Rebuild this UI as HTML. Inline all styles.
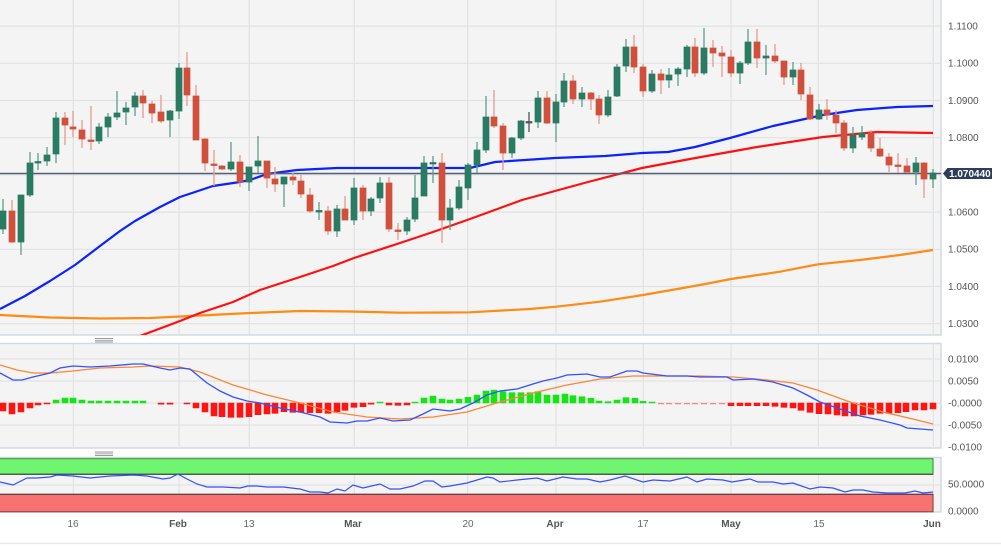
<!DOCTYPE html>
<html><head><meta charset="utf-8">
<style>
html,body{margin:0;padding:0;background:#fff;}
svg{display:block;font-family:"Liberation Sans",sans-serif;}
.ax{font-size:10px;fill:#555;}
.xl{font-size:10px;fill:#666;text-anchor:middle;}
.xb{font-size:10px;fill:#555;font-weight:bold;text-anchor:middle;}
</style></head>
<body>
<svg width="1001" height="549" viewBox="0 0 1001 549" xmlns="http://www.w3.org/2000/svg">
<defs>
<clipPath id="cm"><rect x="0" y="0" width="941" height="335"/></clipPath>
</defs>
<rect x="0" y="0" width="1001" height="549" fill="#fff"/>

<!-- MAIN PANEL -->
<rect x="-1" y="-1" width="942" height="336" fill="#f4f4f4" stroke="#d3d9e2" stroke-width="1.5"/>
<g stroke="#e2e2e2" stroke-width="1.2">
<line x1="0" y1="26.1" x2="941" y2="26.1"/>
<line x1="0" y1="63.3" x2="941" y2="63.3"/>
<line x1="0" y1="100.5" x2="941" y2="100.5"/>
<line x1="0" y1="137.7" x2="941" y2="137.7"/>
<line x1="0" y1="174.9" x2="941" y2="174.9"/>
<line x1="0" y1="212.1" x2="941" y2="212.1"/>
<line x1="0" y1="249.3" x2="941" y2="249.3"/>
<line x1="0" y1="286.5" x2="941" y2="286.5"/>
<line x1="0" y1="323.7" x2="941" y2="323.7"/>
<line x1="73.3" y1="0" x2="73.3" y2="335"/>
<line x1="179" y1="0" x2="179" y2="335"/>
<line x1="249.3" y1="0" x2="249.3" y2="335"/>
<line x1="354.3" y1="0" x2="354.3" y2="335"/>
<line x1="467.7" y1="0" x2="467.7" y2="335"/>
<line x1="556" y1="0" x2="556" y2="335"/>
<line x1="643.3" y1="0" x2="643.3" y2="335"/>
<line x1="731" y1="0" x2="731" y2="335"/>
<line x1="818.3" y1="0" x2="818.3" y2="335"/>
<line x1="933.3" y1="0" x2="933.3" y2="335"/>
</g>

<g clip-path="url(#cm)" fill="none" stroke-width="2.2" stroke-linejoin="round">
<polyline stroke="#ff8a14" points="0,315 50,317.5 100,318.5 150,318 200,315.5 250,313 300,311 350,311.5 400,312.7 450,312.5 470,312.3 530,309 556,306.7 600,301.7 643,295 700,285 731,279 780,271.7 818,264.3 860,260 900,255 933,250"/>
<polyline stroke="#ff1010" points="140,336 180,321 200,313 233,302 260,290 300,277 333,266 354,258 400,243 433,232 470,219 522,200 588,182 642,168 690,159 757,147 823,137 877,132 933,133"/>
<polyline stroke="#0a22ff" points="0,309 25,296 50,281 75,265 100,246 120,231 135,221 160,207 180,197 213,186 240,182 250,180 267,174 297,170 337,168 380,168 430,168 470,168 495,162 555,158 605,156 642,153 668,152 695,147 730,138 773,126 823,115 857,110 897,107 933,106"/>
</g>

<!-- price line -->
<line x1="0" y1="173.5" x2="941" y2="173.5" stroke="#50607a" stroke-width="1.5"/>

<!-- wicks -->
<path fill="none" stroke="#5f9e8b" stroke-width="1.3" d="M3 199V234M21 195V255M30 152V197M38 153V170M47 147V166M56 112V163M99 123V144M108 113V137M117 91V120M126 102V125M135 92V116M170 110V137M179 63V119M231 142V171M249 167V191M258 136V173M284 177V207M319 202V220M337 205V237M354 178V225M371 197V216M380 177V203M407 217V235M415 175V222M424 156V196M433 156V183M450 199V230M459 180V210M468 163V200M477 142V173M486 96V153M512 137V158M521 120V140M538 91V128M556 94V142M564 73V107M582 87V107M608 90V117M617 64V97M626 39V72M652 70V93M669 68V88M678 67V86M687 45V77M704 28V75M740 61V84M748 29V65M766 45V75M793 62V85M819 104V120M853 127V153M862 126V140M916 157V185M933 169V188"/>
<path fill="none" stroke="#e59a90" stroke-width="1.3" d="M12 200V243M65 112V145M73 111V137M82 120V148M91 106V150M143 90V118M152 101V123M161 95V123M187 52V106M196 85V140M205 138V171M214 150V186M222 165V170M240 155V187M267 161V188M275 167V192M293 173V185M301 175V198M310 188V213M328 206V235M345 196V220M363 185V220M389 177V232M398 223V240M442 153V243M494 90V128M503 123V170M547 91V124M573 75V104M591 92V110M599 95V124M634 35V73M643 64V97M661 69V94M695 38V77M713 40V67M722 46V77M731 50V77M757 29V68M775 44V63M784 61V85M801 63V100M810 87V120M827 99V120M836 110V133M844 120V151M871 130V152M880 138V157M889 153V172M898 153V173M907 158V173M924 162V198"/>
<path fill="none" stroke="#555" stroke-width="1.3" d="M529 112V132"/>

<!-- bodies -->
<path fill="#2a7b63" stroke="#2a7b63" stroke-width="0.7" d="M0 211h6v18h-6zM18 195h6v47h-6zM27 163h6v32h-6zM35 161.5h6v1.5h-6zM44 155h6v6h-6zM53 118h6v36h-6zM96 127h6v14h-6zM105 117h6v10h-6zM114 113h6v4h-6zM123 108h6v4h-6zM132 96h6v11h-6zM167 111h6v9h-6zM176 68h6v43h-6zM228 162h6v7h-6zM246 167h6v15h-6zM255 161h6v5h-6zM281 177h6v7h-6zM316 210.5h6v1.5h-6zM334 209h6v22h-6zM351 188h6v32h-6zM368 199h6v12h-6zM377 183h6v15h-6zM404 220h6v11h-6zM412 198h6v21h-6zM421 163h6v33h-6zM430 162.5h6v1.5h-6zM447 208h6v12h-6zM456 187h6v21h-6zM465 165h6v23h-6zM474 150h6v15h-6zM483 117h6v33h-6zM509 138h6v15h-6zM518 121h6v17h-6zM535 98h6v24h-6zM553 102h6v21h-6zM561 81h6v21h-6zM579 93h6v6h-6zM605 97h6v18h-6zM614 67h6v29h-6zM623 47h6v19h-6zM649 74h6v17h-6zM666 75h6v5h-6zM675 69h6v5h-6zM684 47h6v22h-6zM701 48h6v25h-6zM737 63h6v10h-6zM745 42h6v21h-6zM763 56h6v2h-6zM790 70h6v7h-6zM816 110h6v9h-6zM850 135h6v13h-6zM859 133h6v4h-6zM913 163h6v9h-6zM930 173h6v6h-6z"/>
<path fill="#d1503d" stroke="#d1503d" stroke-width="0.7" d="M9 211h6v31h-6zM62 118h6v7h-6zM70 127h6v2h-6zM79 130h6v9h-6zM88 140h6v1.5h-6zM140 96h6v7h-6zM149 104h6v9h-6zM158 112h6v9h-6zM184 68h6v27h-6zM193 96h6v44h-6zM202 139h6v24h-6zM211 164h6v1.5h-6zM219 166h6v3h-6zM237 162h6v20h-6zM264 161h6v17h-6zM272 179h6v5h-6zM290 177h6v3h-6zM298 181h6v13h-6zM307 195h6v16h-6zM325 211h6v20h-6zM342 209h6v11h-6zM360 188h6v23h-6zM386 183h6v46h-6zM395 230h6v1.5h-6zM439 163h6v57h-6zM491 117h6v9h-6zM500 126h6v27h-6zM544 98h6v25h-6zM570 81h6v18h-6zM588 93h6v6h-6zM596 99h6v16h-6zM631 47h6v20h-6zM640 67h6v24h-6zM658 74h6v6h-6zM692 47h6v26h-6zM710 48h6v5h-6zM719 53h6v3h-6zM728 57h6v16h-6zM754 42h6v16h-6zM772 56h6v5h-6zM781 61h6v16h-6zM798 70h6v24h-6zM807 95h6v24h-6zM824 110h6v5h-6zM833 115h6v8h-6zM841 123h6v25h-6zM868 133h6v15h-6zM877 149h6v7h-6zM886 157h6v8h-6zM895 165h6v1.5h-6zM904 166h6v6h-6zM921 163h6v16h-6z"/>
<path fill="#555" stroke="#555" stroke-width="0.7" d="M526 121.5h6v1.5h-6z"/>

<!-- main axis labels -->
<g class="ax">
<text x="948" y="29.5">1.1100</text>
<text x="948" y="66.7">1.1000</text>
<text x="948" y="103.9">1.0900</text>
<text x="948" y="141.1">1.0800</text>
<text x="948" y="215.5">1.0600</text>
<text x="948" y="252.7">1.0500</text>
<text x="948" y="289.9">1.0400</text>
<text x="948" y="327.1">1.0300</text>
</g>
<path d="M943 173.5L947.5 168H992V179H947.5Z" fill="#2c3e5c"/>
<text x="949" y="177" font-size="10" font-weight="bold" fill="#fff">1.070440</text>

<!-- handles -->
<g stroke="#999" stroke-width="0.9">
<line x1="95" y1="338.5" x2="113" y2="338.5"/><line x1="95" y1="340.3" x2="113" y2="340.3"/><line x1="95" y1="342" x2="113" y2="342"/>
<line x1="95" y1="452" x2="113" y2="452"/><line x1="95" y1="453.8" x2="113" y2="453.8"/><line x1="95" y1="455.5" x2="113" y2="455.5"/>
</g>

<!-- MACD PANEL -->
<rect x="-1" y="343.5" width="942" height="104.5" fill="#f4f4f4" stroke="#d3d9e2" stroke-width="1.5"/>
<g stroke="#e2e2e2" stroke-width="1.2">
<line x1="0" y1="359" x2="941" y2="359"/>
<line x1="0" y1="381" x2="941" y2="381"/>
<line x1="0" y1="403" x2="941" y2="403"/>
<line x1="0" y1="425" x2="941" y2="425"/>
<line x1="73.3" y1="344" x2="73.3" y2="448"/>
<line x1="179" y1="344" x2="179" y2="448"/>
<line x1="249.3" y1="344" x2="249.3" y2="448"/>
<line x1="354.3" y1="344" x2="354.3" y2="448"/>
<line x1="467.7" y1="344" x2="467.7" y2="448"/>
<line x1="556" y1="344" x2="556" y2="448"/>
<line x1="643.3" y1="344" x2="643.3" y2="448"/>
<line x1="731" y1="344" x2="731" y2="448"/>
<line x1="818.3" y1="344" x2="818.3" y2="448"/>
<line x1="933.3" y1="344" x2="933.3" y2="448"/>
</g>
<path fill="#ff1414" stroke="#ff1414" stroke-width="0.6" d="M0 403h6v8h-6zM9 403h6v11h-6zM18 403h6v9h-6zM27 403h6v5h-6zM35 403h6v2h-6zM44 403h6v1h-6zM158 403h6v1.2h-6zM167 403h6v1.2h-6zM184 403h6v1h-6zM193 403h6v5h-6zM202 403h6v9h-6zM211 403h6v13h-6zM219 403h6v13.7h-6zM228 403h6v14.3h-6zM237 403h6v14.3h-6zM246 403h6v13.7h-6zM255 403h6v11.7h-6zM264 403h6v11h-6zM272 403h6v10.3h-6zM281 403h6v8.7h-6zM290 403h6v9.3h-6zM298 403h6v9.3h-6zM307 403h6v9.7h-6zM316 403h6v9.7h-6zM325 403h6v10.3h-6zM334 403h6v8.7h-6zM342 403h6v7.3h-6zM351 403h6v4.3h-6zM360 403h6v3.7h-6zM368 403h6v1.2h-6zM386 403h6v2h-6zM395 403h6v2.3h-6zM404 403h6v2h-6zM728 403h6v2.7h-6zM737 403h6v2.7h-6zM745 403h6v2.7h-6zM754 403h6v2.7h-6zM763 403h6v2.7h-6zM772 403h6v3.3h-6zM781 403h6v4.3h-6zM790 403h6v5h-6zM798 403h6v7.3h-6zM807 403h6v9.3h-6zM816 403h6v10.7h-6zM825 403h6v11h-6zM834 403h6v12h-6zM842 403h6v13h-6zM851 403h6v13h-6zM860 403h6v12h-6zM868 403h6v11.3h-6zM877 403h6v10.3h-6zM886 403h6v10.3h-6zM895 403h6v9.7h-6zM903 403h6v8.7h-6zM912 403h6v7h-6zM921 403h6v7h-6zM930 403h6v6h-6z"/>
<path fill="#ff8080" d="M658 403h6v1.2h-6zM666 403h6v1.2h-6zM675 403h6v1.2h-6zM684 403h6v1.2h-6zM692 403h6v1.2h-6zM701 403h6v1.2h-6zM710 403h6v1.2h-6zM719 403h6v1.2h-6z"/>
<path fill="#14e614" stroke="#14e614" stroke-width="0.6" d="M53 400h6v3h-6zM62 398h6v5h-6zM70 398h6v5h-6zM79 400h6v3h-6zM88 401h6v2h-6zM96 401h6v2h-6zM105 401h6v2h-6zM114 401h6v2h-6zM123 401h6v2h-6zM132 401h6v2h-6zM140 401h6v2h-6zM377 402h6v1h-6zM412 402h6v1h-6zM421 398h6v5h-6zM430 396h6v7h-6zM439 399h6v4h-6zM447 400h6v3h-6zM456 399h6v4h-6zM465 397.3h6v5.7h-6zM474 395h6v8h-6zM483 391h6v12h-6zM491 390h6v13h-6zM500 391.7h6v11.3h-6zM509 392.7h6v10.3h-6zM518 392.7h6v10.3h-6zM527 392.7h6v10.3h-6zM535 391.7h6v11.3h-6zM544 395h6v8h-6zM553 395h6v8h-6zM562 394h6v9h-6zM570 395.7h6v7.3h-6zM579 396.7h6v6.3h-6zM588 398.3h6v4.7h-6zM596 401h6v2h-6zM605 401.7h6v1.3h-6zM614 400h6v3h-6zM623 397.7h6v5.3h-6zM632 398.3h6v4.7h-6zM640 401.3h6v1.7h-6zM649 402h6v1h-6z"/>
<polyline fill="none" stroke="#ff8533" stroke-width="1.3" points="0,365 17,370 33,373 50,373 73,371 100,368 133,367 150,366 180,367 200,372 233,385 267,395 300,403 333,412 367,417 400,419 417,418 433,417 467,412 500,402 533,393 567,385 600,379 633,376 667,376 700,376 733,377 767,380 793,383 817,390 850,402 883,412 917,420 933,424"/>
<polyline fill="none" stroke="#3350ff" stroke-width="1.3" points="0,373 13,380 22,380 33,377 50,373 60,368 73,366 90,367 110,366 133,364 143,364 160,368 170,370 180,368 190,369 207,383 220,391 233,397 247,401 260,403 280,408 300,412 320,417 330,422 347,423 357,421 367,421 380,418 393,421 410,420 423,414 433,409 450,411 460,409 473,403 487,395 500,391 517,389 533,384 543,381 557,378 567,375 587,374 600,377 610,377 627,371 637,371 643,373 667,376 687,376 700,377 727,377 733,380 753,379 773,382 793,388 807,395 820,402 840,409 860,416 880,420 900,425 907,428 933,430"/>
<g class="ax">
<text x="948" y="362.5">0.0100</text>
<text x="948" y="384.5">0.0050</text>
<text x="948" y="406.5">-0.0000</text>
<text x="948" y="428.5">-0.0050</text>
<text x="948" y="450.5">-0.0100</text>
</g>

<!-- RSI PANEL -->
<rect x="-1" y="457.5" width="942" height="54.5" fill="#f4f4f4" stroke="#d3d9e2" stroke-width="1.5"/>
<g stroke="#e2e2e2" stroke-width="1.2">
<line x1="0" y1="485" x2="941" y2="485"/>
<line x1="73.3" y1="458" x2="73.3" y2="512"/>
<line x1="179" y1="458" x2="179" y2="512"/>
<line x1="249.3" y1="458" x2="249.3" y2="512"/>
<line x1="354.3" y1="458" x2="354.3" y2="512"/>
<line x1="467.7" y1="458" x2="467.7" y2="512"/>
<line x1="556" y1="458" x2="556" y2="512"/>
<line x1="643.3" y1="458" x2="643.3" y2="512"/>
<line x1="731" y1="458" x2="731" y2="512"/>
<line x1="818.3" y1="458" x2="818.3" y2="512"/>
<line x1="933.3" y1="458" x2="933.3" y2="512"/>
</g>
<rect x="-2" y="458.7" width="935" height="15.5" fill="#6ff56f" stroke="#3a8a3a" stroke-width="1"/>
<line x1="0" y1="474.2" x2="933" y2="474.2" stroke="#333" stroke-width="1"/>
<rect x="-2" y="494.3" width="935" height="17.5" fill="#f87272" stroke="#8a3a3a" stroke-width="1"/>
<line x1="0" y1="494.3" x2="933" y2="494.3" stroke="#444" stroke-width="1"/>
<polyline fill="none" stroke="#3350ff" stroke-width="1.2" points="0,482 13,485 27,478 37,478 50,477 57,475 73,476 90,478 110,476 133,475 147,476 163,479 170,478 178,474 185,478 197,484 207,487 223,487 240,488 248,486 257,486 267,487 283,487 300,489 310,492 320,492 328,493 337,489 345,491 353,485 363,488 380,484 390,489 400,489 413,486 425,481 433,481 442,487 450,486 467,483 487,477 493,478 500,482 517,480 527,479 537,478 547,481 563,477 577,479 587,479 600,482 610,480 625,476 643,482 653,480 670,481 687,477 697,482 707,479 723,480 732,482 750,479 758,482 773,482 783,484 793,483 810,489 820,487 833,488 845,492 853,490 863,490 873,492 887,493 900,493 905,493 915,491 923,493 933,492"/>
<g class="ax">
<text x="948" y="487.5">50.0000</text>
<text x="948" y="514.5">0.0000</text>
</g>

<!-- X axis -->
<text class="xl" x="73" y="527">16</text>
<text class="xb" x="178" y="527">Feb</text>
<text class="xl" x="249" y="527">13</text>
<text class="xb" x="353" y="527">Mar</text>
<text class="xl" x="468" y="527">20</text>
<text class="xb" x="555" y="527">Apr</text>
<text class="xl" x="643" y="527">17</text>
<text class="xb" x="731" y="527">May</text>
<text class="xl" x="819" y="527">15</text>
<text class="xb" x="932" y="527">Jun</text>
<line x1="0" y1="543.5" x2="1001" y2="543.5" stroke="#e4e6ea" stroke-width="1.2"/>
</svg>
</body></html>
